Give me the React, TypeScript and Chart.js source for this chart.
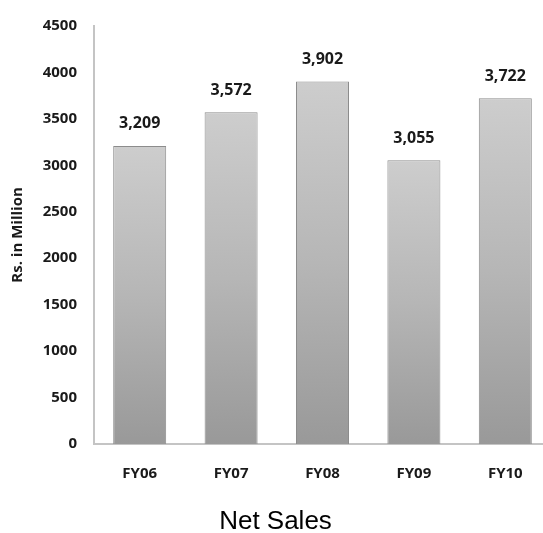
import React, { useEffect, useRef } from "react";
import { Chart, registerables } from "chart.js";

Chart.register(...registerables);

const categories = ["FY06", "FY07", "FY08", "FY09", "FY10"];
const netSales = [3209, 3572, 3902, 3055, 3722];
const yTicks = [0, 500, 1000, 1500, 2000, 2500, 3000, 3500, 4000, 4500];

const valueLabels = {
  id: "valueLabels",
  afterDatasetsDraw(chart: any) {
    const ctx = chart.ctx;
    const meta = chart.getDatasetMeta(0);
    ctx.save();
    ctx.font = "bold 16px 'Open Sans'";
    ctx.fillStyle = "#1a1a1a";
    ctx.textAlign = "center";
    ctx.textBaseline = "middle";
    meta.data.forEach((bar: any, i: number) => {
      const v = chart.data.datasets[0].data[i] as number;
      ctx.fillText(v.toLocaleString("en-US"), bar.x, bar.y - 22);
    });
    ctx.restore();
  },
};

export default function App() {
  const ref = useRef<HTMLCanvasElement>(null);
  useEffect(() => {
    if (!ref.current) return;
    const chart = new Chart(ref.current, {
      type: "bar",
      data: {
        labels: categories,
        datasets: [
          {
            data: netSales,
            backgroundColor: (c: any) => {
              const ch = c.chart;
              const ys = ch.scales?.y;
              if (!ys || c.parsed == null) return "#b5b5b5";
              const top = ys.getPixelForValue(c.parsed.y);
              const bottom = ys.getPixelForValue(0);
              if (!isFinite(top) || !isFinite(bottom)) return "#b5b5b5";
              const g = ch.ctx.createLinearGradient(0, top, 0, bottom);
              g.addColorStop(0, "#cdcdcd");
              g.addColorStop(0.5, "#b6b6b6");
              g.addColorStop(1, "#999999");
              return g;
            },
            borderColor: "#8c8c8c",
            borderWidth: 1,
            barPercentage: 0.58,
            categoryPercentage: 1,
          },
        ],
      },
      options: {
        responsive: false,
        animation: false,
        layout: { padding: { top: 21, left: 0, right: 0, bottom: 0 } },
        plugins: {
          legend: { display: false },
          tooltip: { enabled: false },
          title: {
            display: true,
            position: "bottom",
            text: "Net Sales",
            font: { family: "Liberation Sans", size: 26, weight: "normal", lineHeight: 0.85 },
            color: "#000",
            padding: { top: 17, bottom: 0 },
          },
        },
        scales: {
          x: {
            grid: { display: false, drawTicks: false },
            border: { display: true, color: "#c4c4c4", width: 2 },
            ticks: { font: { family: "Open Sans", weight: "bold", size: 15 }, color: "#1a1a1a", padding: 21 },
            afterFit: (s: any) => {
              s.height = 50;
            },
          },
          y: {
            min: 0,
            max: 4500,
            afterBuildTicks: (s: any) => {
              s.ticks = yTicks.map((v) => ({ value: v }));
            },
            grid: { display: false, drawTicks: false },
            border: { display: true, color: "#c4c4c4", width: 2 },
            ticks: {
              font: { family: "Open Sans", weight: "bold", size: 15 },
              color: "#1a1a1a",
              padding: 17,
              callback: (v: any) => String(v),
            },
            title: {
              display: true,
              text: "Rs. in Million",
              font: { family: "Open Sans", weight: "bold", size: 15 },
              color: "#1a1a1a",
              padding: { top: 9, bottom: 0 },
            },
            afterFit: (s: any) => {
              s.width = 94;
            },
          },
        },
      },
      plugins: [valueLabels],
    });
    return () => chart.destroy();
  }, []);
  return (
    <div style={{ position: "fixed", left: 0, top: 0, width: 543, height: 533, overflow: "hidden", background: "#fff" }}>
      <canvas ref={ref} width={551} height={533} style={{ display: "block", width: 551, height: 533 }} />
    </div>
  );
}
